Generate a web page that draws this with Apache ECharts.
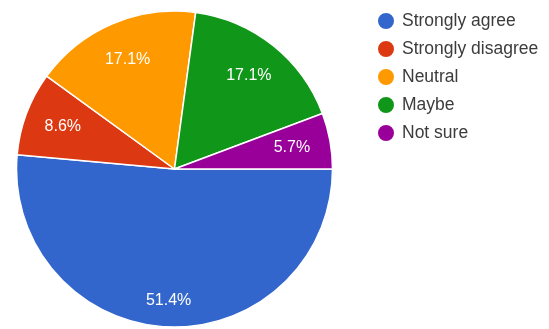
<!DOCTYPE html>
<html>
<head>
<meta charset="utf-8">
<script src="https://cdn.jsdelivr.net/npm/echarts@6/dist/echarts.min.js"></script>
<style>html,body{margin:0;padding:0;background:#fff}#c{width:549px;height:329px}</style>
</head>
<body>
<div id="c"></div>
<script>
const categories = ['Strongly agree', 'Strongly disagree', 'Neutral', 'Maybe', 'Not sure'];
const counts = [18, 3, 6, 6, 2];
const colors = ['#3366cc', '#dc3912', '#ff9900', '#109618', '#990099'];

const total = counts.reduce((a, b) => a + b, 0);
const chart = echarts.init(document.getElementById('c'), null, {renderer: 'canvas'});
const center = [174.5, 169];
const mainData = categories.map((n, i) => ({name: n, value: counts[i], itemStyle: {color: colors[i]}}));
function overlayData(showFn) {
  return categories.map((n, i) => ({
    name: n, value: counts[i],
    itemStyle: {color: 'rgba(0,0,0,0)', borderWidth: 0},
    label: {show: showFn(i)}
  }));
}
const labelStyle = {
  position: 'inside',
  formatter: p => (p.value / total * 100).toFixed(1) + '%',
  color: '#ffffff',
  fontSize: 16,
  fontFamily: 'Liberation Sans, Arial, sans-serif'
};
const common = {
  type: 'pie', center: center, startAngle: 0, clockwise: true,
  animation: false, avoidLabelOverlap: false
};
chart.setOption({
  animation: false,
  legend: {
    orient: 'vertical', left: 371, top: 6,
    icon: 'circle', itemWidth: 18, itemHeight: 18, itemGap: 8,
    textStyle: {fontSize: 17.5, color: '#3c3c3c', fontFamily: 'Liberation Sans, Arial, sans-serif', padding: [0, 0, 0, 2]},
    data: categories
  },
  series: [
    Object.assign({}, common, {
      name: 'main', radius: [0, 158],
      itemStyle: {borderColor: '#fff', borderWidth: 1.5},
      label: {show: false}, labelLine: {show: false},
      emphasis: {disabled: true, scale: false},
      data: mainData
    }),
    Object.assign({}, common, {
      name: 'labels', radius: [0, 232.6], silent: true, legendHoverLink: false,
      label: labelStyle, labelLine: {show: false},
      emphasis: {disabled: true, scale: false},
      data: overlayData(i => i !== 0)
    }),
    Object.assign({}, common, {
      name: 'labels2', radius: [0, 258], silent: true, legendHoverLink: false,
      label: labelStyle, labelLine: {show: false},
      emphasis: {disabled: true, scale: false},
      data: overlayData(i => i === 0)
    })
  ]
});
</script>
</body>
</html>
